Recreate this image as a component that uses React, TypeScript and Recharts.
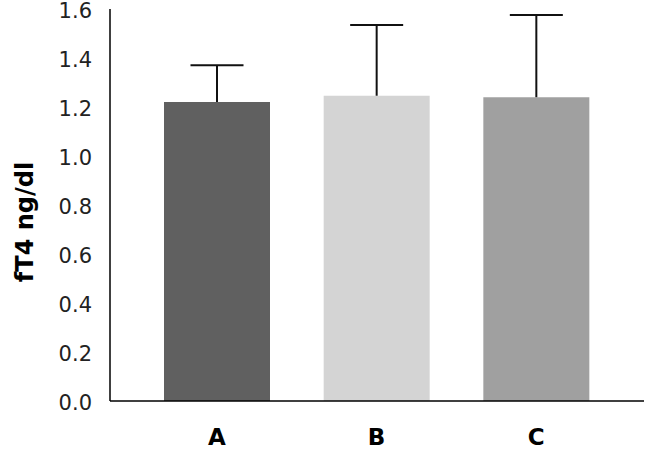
import { Bar, BarChart, Cell, XAxis, YAxis } from 'recharts'

const CATEGORIES = ['A', 'B', 'C']
const MEANS = [1.22, 1.246, 1.24]
const ERRORS = [0.15, 0.289, 0.336]
const Y_TICKS = [0, 0.2, 0.4, 0.6, 0.8, 1.0, 1.2, 1.4, 1.6]
const COLORS = ['#606060', '#d4d4d4', '#a0a0a0']

const FONT = '"DejaVu Sans", sans-serif'

const rows = CATEGORIES.map((name, i) => ({ name, mean: MEANS[i], err: ERRORS[i] }))

// draws the upper error whisker over the stacked segment the library sized for us
function ErrorShape(props: any) {
  const { x, y, width, height } = props
  if (height == null || width == null) return null
  const cx = x + width / 2
  const capHalf = width / 4
  return (
    <g>
      <line x1={cx} x2={cx} y1={y} y2={y + height} stroke="#111" strokeWidth={2} />
      <line x1={cx - capHalf} x2={cx + capHalf} y1={y} y2={y} stroke="#111" strokeWidth={2} />
    </g>
  )
}

function YLabel(props: any) {
  const vb = props.viewBox ?? { x: 0, y: 0, width: 0, height: 0 }
  const cx = vb.x + 25
  const cy = vb.y + vb.height / 2 + 17
  return (
    <text
      x={cx}
      y={cy}
      transform={`rotate(-90 ${cx} ${cy})`}
      textAnchor="middle"
      dominantBaseline="central"
      fontFamily={FONT}
      fontSize={24}
      fontWeight="bold"
      fill="#000"
    >
      fT4 ng/dl
    </text>
  )
}

export default function App() {
  return (
    <div style={{ position: 'absolute', left: 0, top: 0, background: '#fff' }}>
      <BarChart width={645} height={450} data={rows} margin={{ top: 9, right: 1, left: 0, bottom: 19 }}>
        <XAxis
          dataKey="name"
          padding={{ left: 27, right: 28 }}
          axisLine={{ stroke: '#000', strokeWidth: 1.5 }}
          tickLine={false}
          height={30}
          tick={{ fontFamily: FONT, fontSize: 23, fontWeight: 'bold', fill: '#000', dy: 20 }}
        />
        <YAxis
          width={110}
          domain={[0, 1.6]}
          ticks={Y_TICKS}
          interval={0}
          tickFormatter={(v: number) => v.toFixed(1)}
          axisLine={{ stroke: '#000', strokeWidth: 1.5 }}
          tickLine={false}
          tickMargin={12}
          tick={{ fontFamily: FONT, fontSize: 21, fill: '#222', dy: 2 }}
          label={<YLabel />}
        />
        <Bar dataKey="mean" stackId="s" barSize={106} isAnimationActive={false}>
          {rows.map((r, i) => (
            <Cell key={r.name} fill={COLORS[i]} />
          ))}
        </Bar>
        <Bar dataKey="err" stackId="s" barSize={106} isAnimationActive={false} shape={ErrorShape} />
      </BarChart>
    </div>
  )
}
